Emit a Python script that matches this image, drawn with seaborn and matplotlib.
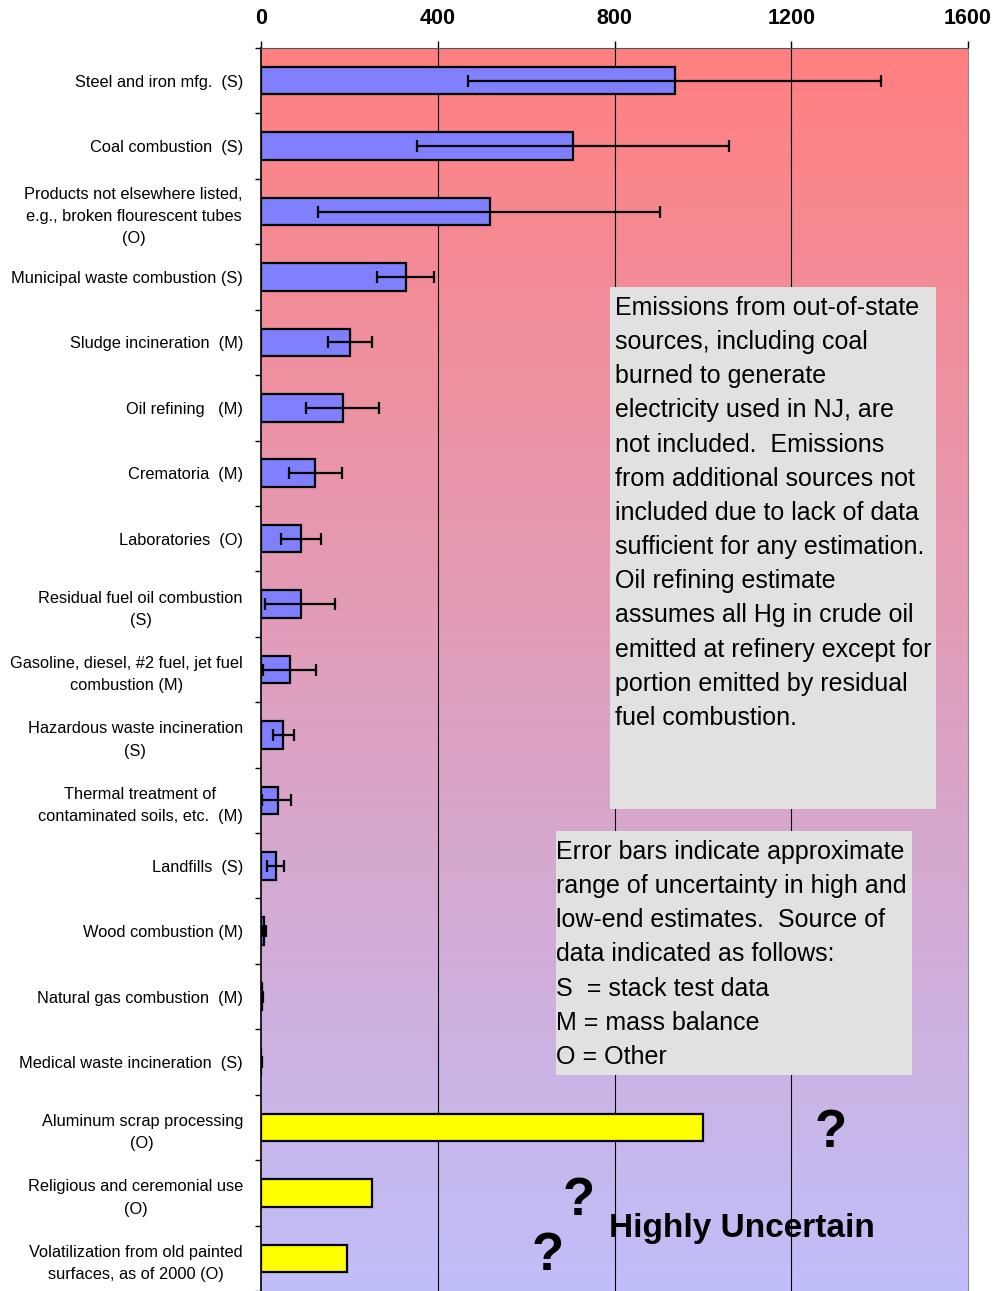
import numpy as np
import pandas as pd
import matplotlib
matplotlib.use("Agg")
import matplotlib.pyplot as plt
import seaborn as sns
from matplotlib.patches import Rectangle

sources = [
    "Steel and iron mfg.  (S)",
    "Coal combustion  (S)",
    "Products not elsewhere listed,\ne.g., broken flourescent tubes\n(O)",
    "Municipal waste combustion (S)",
    "Sludge incineration  (M)",
    "Oil refining   (M)",
    "Crematoria  (M)",
    "Laboratories  (O)",
    "Residual fuel oil combustion\n(S)",
    "Gasoline, diesel, #2 fuel, jet fuel\ncombustion (M)",
    "Hazardous waste incineration\n(S)",
    "Thermal treatment of\ncontaminated soils, etc.  (M)",
    "Landfills  (S)",
    "Wood combustion (M)",
    "Natural gas combustion  (M)",
    "Medical waste incineration  (S)",
    "Aluminum scrap processing\n(O)",
    "Religious and ceremonial use\n(O)",
    "Volatilization from old painted\nsurfaces, as of 2000 (O)",
]
emissions = [936, 705, 518, 328, 201, 185, 122, 90, 90, 66, 50, 38, 34, 7, 2, 1, 1001, 251, 194]
low_est = [468, 353, 129, 262, 151, 102, 63, 45, 9, 5, 27, 2, 14, 2, 1, 0.5,
           np.nan, np.nan, np.nan]
high_est = [1403, 1058, 902, 391, 251, 267, 183, 136, 167, 124, 75, 68, 52, 11, 4, 1.5,
            np.nan, np.nan, np.nan]
kind = ["estimate"] * 16 + ["uncertain"] * 3

df = pd.DataFrame({"source": sources, "emission": emissions,
                   "low": low_est, "high": high_est, "kind": kind})

W, H = 1003, 1291
fig = plt.figure(figsize=(W / 100, H / 100), dpi=100)
ax = fig.add_axes([261 / W, 0, (968 - 261) / W, 1 - 48 / H])


def px(x, y):
    return x / W, 1 - y / H


# background gradient red (top) -> lavender (bottom)
top_c = np.array([255, 128, 128]) / 255
bot_c = np.array([192, 190, 250]) / 255
t = np.linspace(0, 1, 256)[:, None]
grad = (top_c * (1 - t) + bot_c * t)[:, None, :]
ax.imshow(grad, extent=[0, 1, 0, 1], origin="upper", transform=ax.transAxes,
          aspect="auto", zorder=0)

for x in [400, 800, 1200]:
    ax.axvline(x, color="black", lw=0.8, zorder=1)

sns.barplot(data=df, x="emission", y="source", hue="kind", orient="h",
            palette={"estimate": "#8080FF", "uncertain": "#FFFF00"},
            saturation=1, dodge=False, legend=False, width=0.42, edgecolor="black",
            linewidth=1.6, ax=ax, zorder=2)

ypos = np.arange(len(df))
err = df["low"].notna().values
ax.errorbar(df["emission"][err], ypos[err],
            xerr=[(df["emission"] - df["low"])[err], (df["high"] - df["emission"])[err]],
            fmt="none", ecolor="black", elinewidth=1.6, capsize=4.5, capthick=1.6, zorder=3)

ax.set_xlim(0, 1600)
ax.set_ylim(len(df) - 0.5, -0.5)
ax.set_xlabel("")
ax.set_ylabel("")
ax.xaxis.tick_top()
ax.set_xticks([0, 400, 800, 1200, 1600])
ax.tick_params(axis="x", length=5, width=1, pad=9, labelsize=15.5)
for lbl in ax.get_xticklabels():
    lbl.set_fontweight("bold")
    lbl.set_family("Liberation Sans")
ax.set_yticks(ypos)
ax.set_yticklabels(sources)
ax.tick_params(axis="y", which="major", length=0, pad=13, labelsize=11.8)
ax.set_yticks(np.arange(-0.5, len(df)), minor=True)
ax.tick_params(axis="y", which="minor", length=4, width=1, color="black")
for lbl in ax.get_yticklabels():
    lbl.set_multialignment("center")
    lbl.set_linespacing(1.6)
    lbl.set_family("Liberation Sans")
ax.spines["bottom"].set_visible(False)
ax.spines["left"].set_color("black")
ax.spines["left"].set_linewidth(1.2)
ax.spines["top"].set_color("#555555")
ax.spines["right"].set_color("#888888")

# text boxes
note1 = ("Emissions from out-of-state\nsources, including coal\nburned to generate\n"
         "electricity used in NJ, are\nnot included.  Emissions\nfrom additional sources not\n"
         "included due to lack of data\nsufficient for any estimation.\nOil refining estimate\n"
         "assumes all Hg in crude oil\nemitted at refinery except for\nportion emitted by residual\n"
         "fuel combustion.")
note2 = ("Error bars indicate approximate\nrange of uncertainty in high and\n"
         "low-end estimates.  Source of\ndata indicated as follows:\n"
         "S  = stack test data\nM = mass balance\nO = Other")

for (x0, y0, x1, y1) in [(610, 287, 936, 809), (556, 831, 912, 1075)]:
    fig.add_artist(Rectangle(px(x0, y1), (x1 - x0) / W, (y1 - y0) / H,
                             transform=fig.transFigure, facecolor="#E1E1E1",
                             edgecolor="none", zorder=5))
fig.text(*px(615, 296), note1, ha="left", va="top", fontsize=18,
         family="Liberation Sans", linespacing=1.535, zorder=6)
fig.text(*px(556, 840), note2, ha="left", va="top", fontsize=18,
         family="Liberation Sans", linespacing=1.535, zorder=6)

q = dict(fontsize=38, fontweight="bold", family="Liberation Sans", ha="center", va="center")
fig.text(*px(831, 1133), "?", **q)
fig.text(*px(579, 1201), "?", **q)
fig.text(*px(548, 1256), "?", **q)
fig.text(*px(742, 1229), "Highly Uncertain", fontsize=24, fontweight="bold",
         family="Liberation Sans", ha="center", va="center")

fig.savefig("out.png", dpi=100)
